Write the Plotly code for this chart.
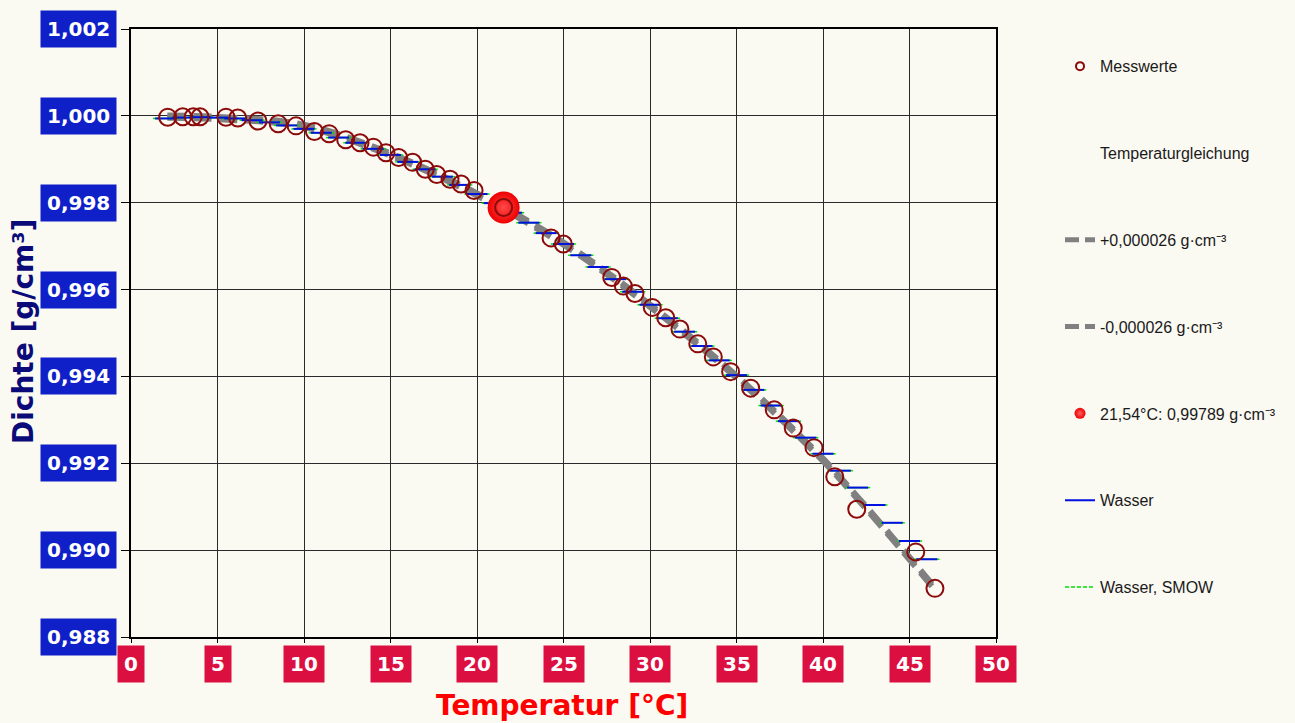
import plotly.graph_objects as go

# ---------------- data ----------------
temp_meas = [2.12, 2.99, 3.60, 3.99, 5.49, 6.17, 7.34, 8.51, 9.54, 10.60,
             11.45, 12.41, 13.24, 14.01, 14.74, 15.47, 16.28, 17.01, 17.67, 18.44,
             19.08, 19.83, 21.54, 24.28, 24.99, 27.79, 28.46, 29.13, 30.13, 30.91,
             31.73, 32.76, 33.66, 34.66, 35.82, 37.18, 38.28, 39.48, 40.68, 41.95,
             45.36, 46.47]
dens_meas = [0.99997, 0.99998, 0.99998, 0.99998, 0.99997, 0.99995, 0.99988, 0.99982, 0.99977, 0.99964,
             0.99959, 0.99945, 0.99938, 0.99928, 0.99915, 0.99904, 0.99893, 0.99877, 0.99865, 0.99854,
             0.99843, 0.99828, 0.99789, 0.99719, 0.99705, 0.99628, 0.99608, 0.99591, 0.99559, 0.99535,
             0.99509, 0.99475, 0.99445, 0.99411, 0.99373, 0.99323, 0.99281, 0.99236, 0.99169, 0.99094,
             0.98996, 0.98912]

fit_temp = [2.1, 5, 10, 15, 20, 25, 30, 35, 40, 42, 44, 46.6]
fit_dens = [0.99998, 0.99995, 0.99977, 0.99911, 0.99819, 0.99706, 0.99563, 0.99399,
            0.99208, 0.99120, 0.99028, 0.98905]
fit_tol = 0.000026

water_temp = [2, 3, 4, 5, 6, 7, 8, 9, 10, 11, 12, 13, 14, 15, 16, 17, 18, 19, 20, 21,
              22, 23, 24, 25, 26, 27, 28, 29, 30, 31, 32, 33, 34, 35, 36, 37, 38, 39, 40,
              41, 42, 43, 44, 45, 46]
water_dens = [0.99994, 0.99996, 0.99997, 0.99996, 0.99994, 0.99990, 0.99985, 0.99978, 0.99970,
              0.99961, 0.99950, 0.99938, 0.99924, 0.99910, 0.99894, 0.99877, 0.99860, 0.99841,
              0.99820, 0.99799, 0.99777, 0.99754, 0.99730, 0.99705, 0.99679, 0.99652, 0.99624,
              0.99595, 0.99565, 0.99534, 0.99503, 0.99470, 0.99437, 0.99403, 0.99369, 0.99333,
              0.99297, 0.99259, 0.99222, 0.99183, 0.99144, 0.99104, 0.99063, 0.99021, 0.98979]
smow_dens = [0.99994, 0.99996, 0.99997, 0.99996, 0.99994, 0.99990, 0.99985, 0.99978, 0.99970,
             0.99961, 0.99950, 0.99938, 0.99924, 0.99910, 0.99894, 0.99877, 0.99860, 0.99841,
             0.99820, 0.99799, 0.99777, 0.99754, 0.99730, 0.99705, 0.99679, 0.99652, 0.99624,
             0.99595, 0.99565, 0.99534, 0.99503, 0.99470, 0.99437, 0.99403, 0.99369, 0.99333,
             0.99297, 0.99259, 0.99222, 0.99183, 0.99144, 0.99104, 0.99063, 0.99021, 0.98979]

point_temp = [21.54]
point_dens = [0.99789]

x_ticks = [0, 5, 10, 15, 20, 25, 30, 35, 40, 45, 50]
x_tick_labels = ["0", "5", "10", "15", "20", "25", "30", "35", "40", "45", "50"]
y_ticks = [0.988, 0.990, 0.992, 0.994, 0.996, 0.998, 1.000, 1.002]
y_tick_labels = ["0,988", "0,990", "0,992", "0,994", "0,996", "0,998", "1,000", "1,002"]

legend_names = ["Messwerte", "Temperaturgleichung", "+0,000026 g·cm⁻³", "-0,000026 g·cm⁻³",
                "21,54°C: 0,99789 g·cm⁻³", "Wasser", "Wasser, SMOW"]

# ---------------- styles ----------------
BG = "#FAF9F2"
DARKRED = "#8B0A0A"
GRAY = "#808080"
BLUE = "#0010E0"
GREEN = "#00E000"

fig = go.Figure()

# tolerance lines of the temperature equation
fit_upper = [d + fit_tol for d in fit_dens]
fit_lower = [d - fit_tol for d in fit_dens]
for ys in (fit_upper, fit_lower):
    fig.add_trace(go.Scatter(x=fit_temp, y=ys, mode="lines", showlegend=False,
                             line=dict(color=GRAY, width=6, dash="18px,8px", shape="spline"),
                             hoverinfo="skip"))

# water SMOW and water reference
fig.add_trace(go.Scatter(x=water_temp, y=smow_dens, mode="markers", showlegend=False,
                         marker=dict(symbol="line-ew", size=18,
                                     line=dict(color=GREEN, width=1.5))))
fig.add_trace(go.Scatter(x=water_temp, y=water_dens, mode="markers", showlegend=False,
                         marker=dict(symbol="line-ew", size=15,
                                     line=dict(color=BLUE, width=2))))

# highlighted point
fig.add_trace(go.Scatter(x=point_temp, y=point_dens, mode="markers", showlegend=False,
                         marker=dict(size=32, color="#EE0000",
                                     gradient=dict(type="radial", color="#FF4A4A"),
                                     line=dict(width=0))))

# measured values
fig.add_trace(go.Scatter(x=temp_meas, y=dens_meas, mode="markers", showlegend=False,
                         marker=dict(symbol="circle-open", size=17, color=DARKRED,
                                     line=dict(width=2, color=DARKRED))))

# ---------------- legend entries ----------------
leg_styles = [
    dict(mode="markers", marker=dict(symbol="circle-open", size=8, color=DARKRED,
                                     line=dict(width=2, color=DARKRED))),
    dict(mode="lines", line=dict(color="rgba(0,0,0,0)", width=0)),
    dict(mode="lines", line=dict(color=GRAY, width=5, dash="14px,6px")),
    dict(mode="lines", line=dict(color=GRAY, width=5, dash="14px,6px")),
    dict(mode="markers", marker=dict(size=11, color="#EE0000",
                                     gradient=dict(type="radial", color="#FF6060"),
                                     line=dict(width=0))),
    dict(mode="lines", line=dict(color=BLUE, width=2)),
    dict(mode="lines", line=dict(color=GREEN, width=1.5, dash="4px,2px")),
]
for i, (name, st) in enumerate(zip(legend_names, leg_styles)):
    fig.add_trace(go.Scatter(x=[None], y=[None], name=name, legendgroup=f"g{i}", **st))

# ---------------- tick label boxes ----------------
annotations = []
for v, lab in zip(y_ticks, y_tick_labels):
    annotations.append(dict(x=-0.0162, xref="paper", xanchor="right", y=v, yref="y",
                            yanchor="middle", text=f"<b>{lab}</b>", showarrow=False,
                            bgcolor="#1020C8", borderpad=6,
                            font=dict(family="DejaVu Sans", size=20, color="white")))
for v, lab in zip(x_ticks, x_tick_labels):
    annotations.append(dict(x=v, xref="x", xanchor="center", y=-0.0132, yref="paper",
                            yanchor="top", text=f"<b>{lab}</b>", showarrow=False,
                            bgcolor="#DC1040", borderpad=6,
                            font=dict(family="DejaVu Sans", size=20, color="white")))
# axis titles
annotations.append(dict(x=-0.125, xref="paper", xanchor="center", y=0.503, yref="paper",
                        yanchor="middle", textangle=-90,
                        text="<b>Dichte [g/cm³]</b>", showarrow=False,
                        font=dict(family="DejaVu Sans", size=28, color="#0A0A78")))
annotations.append(dict(x=0.498, xref="paper", xanchor="center", y=-0.113, yref="paper",
                        yanchor="middle",
                        text="<b>Temperatur [°C]</b>", showarrow=False,
                        font=dict(family="DejaVu Sans", size=28, color="#FF0000")))

axis_common = dict(showgrid=True, gridcolor="#2A2A2A", gridwidth=1, zeroline=False,
                   showline=True, linecolor="black", linewidth=2, mirror=True,
                   ticks="outside", tickcolor="black", showticklabels=False)

fig.update_layout(
    width=1295, height=723,
    margin=dict(l=131, r=299, t=29, b=86),
    paper_bgcolor=BG, plot_bgcolor=BG,
    xaxis=dict(range=[0, 50], tickvals=x_ticks, ticklen=4, **axis_common),
    yaxis=dict(range=[0.988, 1.002], tickvals=y_ticks, ticklen=8, **axis_common),
    annotations=annotations,
    legend=dict(x=1.074, xanchor="left", y=0.9667, yanchor="top", bgcolor="rgba(0,0,0,0)",
                tracegroupgap=63, traceorder="grouped", borderwidth=0,
                font=dict(family="Liberation Sans", size=16, color="#1A1A1A")),
    showlegend=True,
)

fig.write_html("out.html", config={"displayModeBar": False},
               post_script="document.body.style.margin='0';")
